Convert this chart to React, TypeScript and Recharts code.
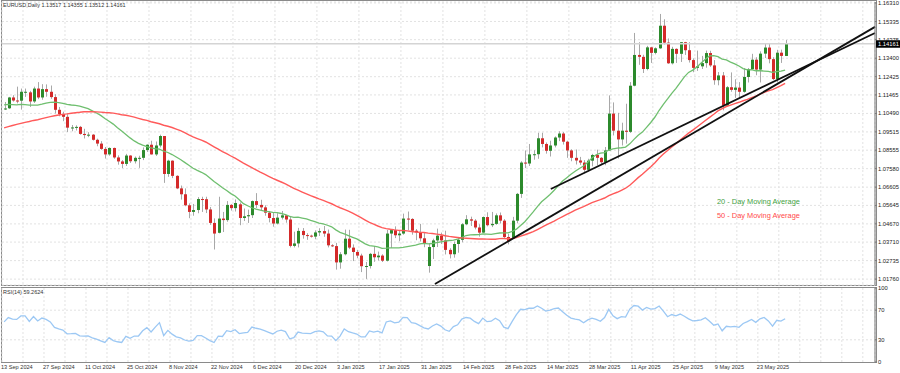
import React from "react";
import { ComposedChart, Bar, Line, XAxis, YAxis, CartesianGrid, ReferenceLine } from "recharts";

// EURUSD daily, 13 Sep 2024 .. 2 Jun 2025
const openP = [
  // Sep
  1.1073, 1.1076, 1.1133, 1.1117, 1.1116, 1.1162, 1.1160, 1.1112, 1.1180, 1.1133, 1.1177, 1.1163,
  // Oct
  1.1135, 1.1068, 1.1046, 1.1031, 1.0974, 1.0975, 1.0978, 1.0941, 1.0935, 1.0937, 1.0910, 1.0890, 1.0862, 1.0833, 1.0867, 1.0817, 1.0796, 1.0783, 1.0827, 1.0797, 1.0815, 1.0815, 1.0856,
  // Nov
  1.0884, 1.0833, 1.0880, 1.0930, 1.0730, 1.0800, 1.0720, 1.0654, 1.0623, 1.0565, 1.0530, 1.0540, 1.0598, 1.0597, 1.0543, 1.0472, 1.0420, 1.0495, 1.0487, 1.0567, 1.0550,
  // Dec
  1.0570, 1.0498, 1.0507, 1.0513, 1.0587, 1.0567, 1.0554, 1.0526, 1.0498, 1.0469, 1.0500, 1.0512, 1.0490, 1.0351, 1.0364, 1.0430, 1.0408, 1.0405, 1.0400, 1.0422, 1.0429, 1.0416,
  // Jan
  1.0354, 1.0350, 1.0264, 1.0307, 1.0389, 1.0342, 1.0319, 1.0300, 1.0244, 1.0245, 1.0309, 1.0291, 1.0300, 1.0273, 1.0416, 1.0434, 1.0407, 1.0416, 1.0495, 1.0493, 1.0431, 1.0422, 1.0391,
  // Feb
  1.0245, 1.0345, 1.0380, 1.0405, 1.0380, 1.0330, 1.0307, 1.0361, 1.0383, 1.0465, 1.0491, 1.0484, 1.0448, 1.0421, 1.0503, 1.0460, 1.0467, 1.0512, 1.0484, 1.0398,
  // Mar
  1.0390, 1.0484, 1.0625, 1.0790, 1.0785, 1.0833, 1.0834, 1.0918, 1.0888, 1.0852, 1.0880, 1.0922, 1.0943, 1.0900, 1.0854, 1.0815, 1.0801, 1.0790, 1.0752, 1.0800, 1.0830,
  // Apr
  1.0815, 1.0792, 1.0854, 1.1048, 1.0958, 1.0912, 1.0958, 1.0952, 1.1195, 1.1357, 1.1347, 1.1283, 1.1397, 1.1368, 1.1392, 1.1511, 1.1422, 1.1313, 1.1389, 1.1363, 1.1424, 1.1382,
  // May
  1.1330, 1.1289, 1.1297, 1.1314, 1.1367, 1.1302, 1.1224, 1.1249, 1.1090, 1.1187, 1.1173, 1.1185, 1.1163, 1.1241, 1.1282, 1.1332, 1.1280, 1.1364, 1.1396, 1.1335, 1.1230, 1.1369,
  // Jun
  1.13517,
];

const highP = [
  1.1109, 1.1136, 1.1145, 1.1190, 1.1180, 1.1180, 1.1168, 1.1190, 1.1214, 1.1203, 1.1202, 1.1196,
  1.1150, 1.1083, 1.1058, 1.1045, 1.0988, 1.0986, 1.0983, 1.0968, 1.0950, 1.0940, 1.0916, 1.0903, 1.0872, 1.0870, 1.0869, 1.0828, 1.0803, 1.0836, 1.0829, 1.0822, 1.0826, 1.0870, 1.0886,
  1.0905, 1.0901, 1.0937, 1.0930, 1.0805, 1.0802, 1.0723, 1.0669, 1.0654, 1.0575, 1.0572, 1.0608, 1.0610, 1.0610, 1.0556, 1.0496, 1.0610, 1.0530, 1.0587, 1.0571, 1.0596,
  1.0580, 1.0548, 1.0542, 1.0590, 1.0629, 1.0594, 1.0565, 1.0535, 1.0525, 1.0523, 1.0535, 1.0514, 1.0509, 1.0426, 1.0446, 1.0445, 1.0418, 1.0410, 1.0433, 1.0444, 1.0456, 1.0437,
  1.0360, 1.0367, 1.0318, 1.0437, 1.0436, 1.0359, 1.0330, 1.0310, 1.0266, 1.0314, 1.0350, 1.0321, 1.0307, 1.0435, 1.0434, 1.0454, 1.0433, 1.0521, 1.0532, 1.0497, 1.0440, 1.0467, 1.0420,
  1.0362, 1.0389, 1.0442, 1.0421, 1.0431, 1.0339, 1.0374, 1.0395, 1.0471, 1.0513, 1.0505, 1.0492, 1.0465, 1.0506, 1.0528, 1.0530, 1.0522, 1.0527, 1.0492, 1.0415,
  1.0504, 1.0630, 1.0797, 1.0854, 1.0888, 1.0855, 1.0947, 1.0947, 1.0896, 1.0905, 1.0928, 1.0955, 1.0951, 1.0905, 1.0860, 1.0859, 1.0820, 1.0803, 1.0810, 1.0836, 1.0858,
  1.0819, 1.0872, 1.1144, 1.1107, 1.1052, 1.1000, 1.1100, 1.1214, 1.1473, 1.1424, 1.1358, 1.1405, 1.1400, 1.1397, 1.1573, 1.1545, 1.1444, 1.1400, 1.1392, 1.1425, 1.1426, 1.1424,
  1.1339, 1.1380, 1.1352, 1.1380, 1.1379, 1.1330, 1.1267, 1.1267, 1.1193, 1.1265, 1.1229, 1.1214, 1.1288, 1.1288, 1.1363, 1.1345, 1.1376, 1.1419, 1.1420, 1.1345, 1.1384, 1.1385,
  1.14355,
];

const lowP = [
  1.1067, 1.1073, 1.1111, 1.1102, 1.1069, 1.1136, 1.1083, 1.1104, 1.1124, 1.1121, 1.1137, 1.1126,
  1.1049, 1.1034, 1.1008, 1.0951, 1.0955, 1.0959, 1.0937, 1.0917, 1.0924, 1.0906, 1.0876, 1.0857, 1.0811, 1.0826, 1.0810, 1.0779, 1.0761, 1.0772, 1.0788, 1.0785, 1.0762, 1.0803, 1.0846,
  1.0832, 1.0825, 1.0870, 1.0683, 1.0715, 1.0708, 1.0650, 1.0595, 1.0560, 1.0497, 1.0510, 1.0523, 1.0530, 1.0524, 1.0462, 1.0332, 1.0417, 1.0424, 1.0478, 1.0537, 1.0532,
  1.0460, 1.0482, 1.0472, 1.0498, 1.0550, 1.0540, 1.0510, 1.0475, 1.0452, 1.0464, 1.0490, 1.0473, 1.0343, 1.0343, 1.0343, 1.0389, 1.0383, 1.0395, 1.0386, 1.0403, 1.0399, 1.0343,
  1.0345, 1.0226, 1.0231, 1.0301, 1.0334, 1.0271, 1.0286, 1.0213, 1.0177, 1.0232, 1.0267, 1.0274, 1.0266, 1.0269, 1.0340, 1.0392, 1.0376, 1.0410, 1.0434, 1.0410, 1.0381, 1.0374, 1.0344,
  1.0210, 1.0282, 1.0345, 1.0361, 1.0306, 1.0285, 1.0289, 1.0315, 1.0370, 1.0460, 1.0456, 1.0438, 1.0400, 1.0419, 1.0454, 1.0450, 1.0462, 1.0469, 1.0393, 1.0359,
  1.0388, 1.0470, 1.0604, 1.0761, 1.0772, 1.0805, 1.0810, 1.0870, 1.0837, 1.0822, 1.0870, 1.0903, 1.0885, 1.0815, 1.0797, 1.0780, 1.0778, 1.0733, 1.0742, 1.0770, 1.0776,
  1.0777, 1.0776, 1.0852, 1.0933, 1.0811, 1.0880, 1.0890, 1.0946, 1.1192, 1.1305, 1.1262, 1.1276, 1.1315, 1.1360, 1.1389, 1.1412, 1.1310, 1.1307, 1.1315, 1.1320, 1.1357, 1.1317,
  1.1266, 1.1273, 1.1283, 1.1290, 1.1294, 1.1200, 1.1197, 1.1065, 1.1086, 1.1163, 1.1131, 1.1130, 1.1158, 1.1212, 1.1279, 1.1250, 1.1212, 1.1341, 1.1313, 1.1225, 1.1212, 1.1315,
  1.13512,
];

const closeP = [
  1.1075, 1.1133, 1.1117, 1.1115, 1.1163, 1.1163, 1.1112, 1.1180, 1.1133, 1.1177, 1.1163, 1.1135,
  1.1068, 1.1046, 1.1031, 1.0974, 1.0975, 1.0978, 1.0941, 1.0935, 1.0937, 1.0910, 1.0890, 1.0862, 1.0833, 1.0867, 1.0817, 1.0796, 1.0783, 1.0827, 1.0797, 1.0815, 1.0815, 1.0856, 1.0884,
  1.0833, 1.0880, 1.0930, 1.0730, 1.0800, 1.0720, 1.0654, 1.0623, 1.0565, 1.0530, 1.0540, 1.0598, 1.0597, 1.0543, 1.0472, 1.0416, 1.0495, 1.0487, 1.0567, 1.0550, 1.0577,
  1.0498, 1.0507, 1.0513, 1.0587, 1.0567, 1.0554, 1.0526, 1.0498, 1.0469, 1.0500, 1.0512, 1.0490, 1.0351, 1.0364, 1.0430, 1.0408, 1.0405, 1.0400, 1.0422, 1.0429, 1.0416, 1.0354,
  1.0350, 1.0264, 1.0307, 1.0389, 1.0342, 1.0319, 1.0300, 1.0244, 1.0245, 1.0309, 1.0291, 1.0300, 1.0273, 1.0416, 1.0434, 1.0407, 1.0416, 1.0495, 1.0493, 1.0431, 1.0422, 1.0391, 1.0362,
  1.0345, 1.0380, 1.0405, 1.0380, 1.0330, 1.0307, 1.0361, 1.0383, 1.0465, 1.0491, 1.0484, 1.0448, 1.0421, 1.0503, 1.0460, 1.0467, 1.0512, 1.0484, 1.0398, 1.0375,
  1.0484, 1.0625, 1.0790, 1.0785, 1.0833, 1.0834, 1.0918, 1.0888, 1.0852, 1.0880, 1.0922, 1.0943, 1.0900, 1.0854, 1.0815, 1.0801, 1.0790, 1.0752, 1.0800, 1.0830, 1.0815,
  1.0792, 1.0854, 1.1048, 1.0958, 1.0912, 1.0958, 1.0952, 1.1195, 1.1357, 1.1347, 1.1283, 1.1397, 1.1368, 1.1392, 1.1511, 1.1422, 1.1313, 1.1389, 1.1363, 1.1424, 1.1382, 1.1330,
  1.1289, 1.1297, 1.1314, 1.1367, 1.1302, 1.1224, 1.1249, 1.1090, 1.1187, 1.1173, 1.1185, 1.1163, 1.1241, 1.1282, 1.1332, 1.1280, 1.1364, 1.1396, 1.1335, 1.1230, 1.1369, 1.1352,
  1.14161,
];

// closes before the visible window (5 Jul .. 12 Sep 2024), used for MA / RSI warm-up
const priorClose = [
  1.0840, 1.0826, 1.0813, 1.0830, 1.0866, 1.0907, 1.0894, 1.0898, 1.0938, 1.0898, 1.0883, 1.0890, 1.0845, 1.0844, 1.0850, 1.0855, 1.0818, 1.0817, 1.0825,
  1.0790, 1.0910, 1.0954, 1.0933, 1.0924, 1.0920, 1.0918, 1.0932, 1.0992, 1.1012, 1.0970, 1.1028, 1.1077, 1.1130, 1.1150, 1.1115, 1.1193, 1.1160, 1.1185, 1.1120, 1.1077, 1.1047,
  1.1068, 1.1045, 1.1087, 1.1112, 1.1085, 1.1040, 1.1017, 1.1013, 1.1075,
];

const dateLabels = [
  "13 Sep 2024", "27 Sep 2024", "11 Oct 2024", "25 Oct 2024", "8 Nov 2024", "22 Nov 2024", "6 Dec 2024",
  "20 Dec 2024", "3 Jan 2025", "17 Jan 2025", "31 Jan 2025", "14 Feb 2025", "28 Feb 2025", "14 Mar 2025",
  "28 Mar 2025", "11 Apr 2025", "25 Apr 2025", "9 May 2025", "23 May 2025",
];

const priceTicks = [
  1.1631, 1.15335, 1.14375, 1.134, 1.12425, 1.11465, 1.1049, 1.09515,
  1.08555, 1.0758, 1.06605, 1.05645, 1.0467, 1.0371, 1.02735, 1.0176,
];
const rsiTicks = [0, 30, 70, 100];

// hand-drawn trend lines (bar index, price)
const trendLines = [
  { x1: 130.2, y1: 1.0651, x2: 207.4, y2: 1.1473 },
  { x1: 102.6, y1: 1.015, x2: 207.4, y2: 1.1505 },
];
const lastPrice = 1.14161;

const X_DOMAIN: [number, number] = [-0.5, 207.4];
const gridTicks: number[] = [];
for (let t = -0.5; t < 207; t += 5) gridTicks.push(t);

const allClose = [...priorClose, ...closeP];
const off = priorClose.length;
const avg = (a: number[]) => a.reduce((s, v) => s + v, 0) / a.length;

const rsiAll: (number | null)[] = [null];
let ag = 0;
let al = 0;
for (let i = 1; i < allClose.length; i++) {
  const ch = allClose[i] - allClose[i - 1];
  const g = Math.max(ch, 0);
  const l = Math.max(-ch, 0);
  if (i <= 14) {
    ag += g / 14;
    al += l / 14;
  } else {
    ag = (ag * 13 + g) / 14;
    al = (al * 13 + l) / 14;
  }
  rsiAll.push(i >= 14 ? (al === 0 ? 100 : 100 - 100 / (1 + ag / al)) : null);
}

const data = closeP.map((c, i) => ({
  x: i,
  open: openP[i],
  high: highP[i],
  low: lowP[i],
  close: c,
  range: [lowP[i], highP[i]],
  ma20: avg(allClose.slice(off + i - 19, off + i + 1)),
  ma50: avg(allClose.slice(off + i - 49, off + i + 1)),
  rsi: rsiAll[off + i],
}));

const Candle = (props: any) => {
  const { x, y, width, height, payload } = props;
  if (!payload || x == null) return null;
  const { open, close, high, low } = payload;
  const top = Math.min(y, y + height);
  const h = Math.abs(height);
  const k = high - low > 0 ? h / (high - low) : 0;
  const cx = Math.round(x + width / 2) + 0.5;
  const yO = top + (high - open) * k;
  const yC = top + (high - close) * k;
  const up = close >= open;
  const bt = Math.min(yO, yC);
  const bh = Math.max(Math.abs(yO - yC), 1);
  return (
    <g>
      <line x1={cx} x2={cx} y1={top} y2={top + h} stroke="#a8a8a8" strokeWidth={1} />
      <rect x={cx - 1.5} y={bt} width={3} height={bh} fill={up ? "#2c8a2c" : "#d42a2a"} />
    </g>
  );
};

const PriceTag = (p: any) => {
  const vb = p.viewBox || {};
  const x = (vb.x || 0) + (vb.width || 0) + 1;
  const y = vb.y || 0;
  return (
    <g>
      <rect x={x} y={y - 3.5} width={24} height={7.5} fill="#000" />
      <text x={x + 2} y={y + 2.4} fontSize={5.8} fill="#fff">
        {lastPrice.toFixed(5)}
      </text>
    </g>
  );
};

const DateTick = (p: any) => {
  const { x, y, payload } = p;
  const k = Math.round((payload.value + 0.5) / 5);
  if (k % 2 !== 0) return null;
  const label = dateLabels[k / 2];
  if (!label) return null;
  return (
    <text x={x - 1} y={y + 6.5} fontSize={5.6} fill="#333">
      {label}
    </text>
  );
};

const axisTick = { fontSize: 5.8, fill: "#222" };

export default function App() {
  return (
    <div
      style={{
        position: "absolute",
        left: 0,
        top: 0,
        width: 900,
        height: 373,
        background: "#fff",
        fontFamily: "'Liberation Sans', Arial, sans-serif",
        overflow: "hidden",
      }}
    >
      <div style={{ position: "absolute", left: 1, top: 0, width: 874, height: 284, border: "1px solid #8a8a8a" }} />
      <div style={{ position: "absolute", left: 1, top: 287, width: 874, height: 74, border: "1px solid #8a8a8a" }} />

      <div style={{ position: "absolute", left: 0, top: 0 }}>
        <ComposedChart width={900} height={288} data={data} margin={{ top: 2, right: 0, bottom: 3, left: 2 }}>
          <CartesianGrid stroke="#e2e2e2" strokeDasharray="2 2" />
          <XAxis type="number" dataKey="x" domain={X_DOMAIN} ticks={gridTicks} hide allowDataOverflow />
          <YAxis
            orientation="right"
            domain={[1.0145, 1.1636]}
            ticks={priceTicks}
            interval={0}
            width={25}
            allowDataOverflow
            tick={axisTick}
            tickFormatter={(v: number) => v.toFixed(5)}
            axisLine={{ stroke: "#777" }}
            tickLine={{ stroke: "#777" }}
            tickSize={2}
            tickMargin={1}
          />
          <ReferenceLine y={lastPrice} stroke="#d4d4d4" strokeWidth={1.5} label={(p: any) => <PriceTag {...p} />} />
          <Bar dataKey="range" barSize={3} isAnimationActive={false} shape={(p: any) => <Candle {...p} />} />
          <Line type="linear" dataKey="ma20" stroke="#6fbf6f" strokeWidth={1.3} dot={false} isAnimationActive={false} />
          <Line type="linear" dataKey="ma50" stroke="#ff5a5a" strokeWidth={1.4} dot={false} isAnimationActive={false} />
          {trendLines.map((t, i) => (
            <ReferenceLine
              key={i}
              segment={[
                { x: t.x1, y: t.y1 },
                { x: t.x2, y: t.y2 },
              ]}
              stroke="#111"
              strokeWidth={1.8}
              ifOverflow="visible"
            />
          ))}
        </ComposedChart>
      </div>

      <div style={{ position: "absolute", left: 0, top: 286 }}>
        <ComposedChart width={900} height={87} data={data} margin={{ top: 2, right: 0, bottom: 0, left: 2 }}>
          <CartesianGrid stroke="#e2e2e2" strokeDasharray="2 2" horizontalValues={[30, 70]} />
          <XAxis
            type="number"
            dataKey="x"
            domain={X_DOMAIN}
            ticks={gridTicks}
            interval={0}
            allowDataOverflow
            height={11}
            axisLine={false}
            tickLine={false}
            tickSize={0}
            tickMargin={0}
            tick={(p: any) => <DateTick {...p} />}
          />
          <YAxis
            orientation="right"
            domain={[0, 100]}
            ticks={rsiTicks}
            interval={0}
            width={25}
            tick={axisTick}
            axisLine={{ stroke: "#777" }}
            tickLine={{ stroke: "#777" }}
            tickSize={2}
            tickMargin={1}
          />
          <Line type="linear" dataKey="rsi" stroke="#9cc8f4" strokeWidth={1.3} dot={false} isAnimationActive={false} />
        </ComposedChart>
      </div>

      <svg width={900} height={373} style={{ position: "absolute", left: 0, top: 0, pointerEvents: "none" }}>
        <text x={3} y={7} fontSize={5.5} fill="#333">
          EURUSD,Daily  1.13517 1.14355 1.13512 1.14161
        </text>
        <text x={717} y={204} fontSize={7.4} fill="#3f9f3f">
          20 - Day Moving Average
        </text>
        <text x={717} y={218} fontSize={7.4} fill="#ff4a4a">
          50 - Day Moving Average
        </text>
        <text x={3} y={294} fontSize={5.5} fill="#333">
          RSI(14) 59.2624
        </text>
      </svg>
    </div>
  );
}
